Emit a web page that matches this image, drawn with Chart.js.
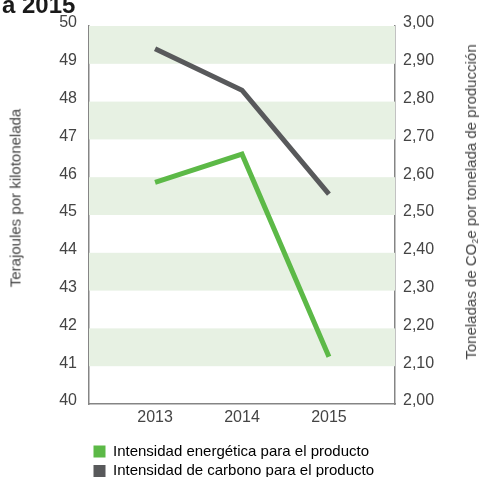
<!DOCTYPE html>
<html>
<head>
<meta charset="utf-8">
<script src="https://cdn.jsdelivr.net/npm/chart.js@4.4.1/dist/chart.umd.min.js"></script>
<style>
  html, body { margin: 0; padding: 0; background: #fff; }
  #wrap { position: relative; width: 482px; height: 477px; overflow: hidden; font-family: "Liberation Sans", Arial, sans-serif; }
  #wrap canvas { position: absolute; left: 0; top: 0; }
  .head { position: absolute; left: 2px; top: -7px; font-size: 24px; line-height: 24px; font-weight: bold; color: #1a1a1a; }
  .ytitle { position: absolute; white-space: nowrap; font-size: 15px; color: #444; transform: translate(-50%, -50%) rotate(-90deg); }
  .ytitle sub { font-size: 9px; vertical-align: -2px; }
</style>
</head>
<body>
<div id="wrap">
  <canvas id="c" width="482" height="477"></canvas>
  <div class="head">a 2015</div>
  <div class="ytitle" style="left:15px; top:198px">Terajoules por kilotonelada</div>
  <div class="ytitle" style="left:471px; top:202px">Toneladas de CO<sub>2</sub>e por tonelada de producción</div>
</div>
<script>
// Data
const years     = [2013, 2014, 2015];
const energia   = [45.86, 46.61, 41.25];   // left axis, TJ / kt
const carbono   = [2.94, 2.83, 2.555];     // right axis, t CO2e / t
const seriesNames = ['Intensidad energética para el producto', 'Intensidad de carbono para el producto'];
const leftTicks  = [40, 50, 1];            // min, max, step
const rightTicks = [2, 3, 0.1];

const GREEN = '#5cb947';
const GREY  = '#58595b';
const TXT   = '#444';
const AXIS  = '#858585';

// light green bands on every other unit of the left axis
const bandsPlugin = {
  id: 'bands',
  beforeDatasetsDraw(chart) {
    const { ctx, chartArea: a, scales: { y } } = chart;
    ctx.save();
    ctx.fillStyle = '#e7f1e3';
    y.ticks.forEach(t => {
      if (t.value % 2 === 1 && t.value < y.max) {
        const top = y.getPixelForValue(t.value + 1);
        const bot = y.getPixelForValue(t.value);
        ctx.fillRect(a.left, top, a.right - a.left, bot - top);
      }
    });
    ctx.restore();
  }
};

const tickFont = { family: '"Liberation Sans", Arial, sans-serif', size: 16 };

new Chart(document.getElementById('c'), {
  type: 'line',
  data: {
    datasets: [
      { label: seriesNames[0], data: years.map((x, i) => ({ x, y: energia[i] })), yAxisID: 'y',
        borderColor: GREEN, backgroundColor: GREEN, borderWidth: 5, pointRadius: 0, tension: 0 },
      { label: seriesNames[1], data: years.map((x, i) => ({ x, y: carbono[i] })), yAxisID: 'y2',
        borderColor: GREY, backgroundColor: GREY, borderWidth: 5, pointRadius: 0, tension: 0 },
    ],
  },
  options: {
    responsive: false,
    animation: false,
    layout: { padding: { top: 26, left: 0, right: 0, bottom: -11.5 } },
    plugins: {
      tooltip: { enabled: false },
      legend: {
        position: 'bottom',
        align: 'start',
        fullSize: false,
        labels: {
          color: TXT, font: { family: tickFont.family, size: 15, lineHeight: 1 },
          boxWidth: 12, boxHeight: 12, padding: 4.5, useBorderRadius: false,
          generateLabels: chart => chart.data.datasets.map((d, i) => ({
            text: d.label, fillStyle: d.borderColor, strokeStyle: d.borderColor, lineWidth: 0, datasetIndex: i,
          })),
        },
      },
    },
    scales: {
      x: {
        type: 'linear',
        min: 2012.24, max: 2015.76,
        afterBuildTicks: s => { s.ticks = years.map(v => ({ value: v })); },
        afterFit: s => { s.height = 35.5; },
        ticks: { color: TXT, font: tickFont, padding: 4, callback: v => String(v) },
        grid: { display: false, drawTicks: false },
        border: { display: true, color: AXIS, width: 1.5 },
      },
      y: {
        position: 'left',
        min: leftTicks[0], max: leftTicks[1],
        afterFit: s => { s.width = 89; },
        ticks: { stepSize: leftTicks[2], color: TXT, font: tickFont, padding: 12, labelOffset: -3 },
        grid: { display: false, drawTicks: false },
        border: { display: true, color: AXIS, width: 1.5 },
      },
      y2: {
        position: 'right',
        min: rightTicks[0], max: rightTicks[1],
        afterFit: s => { s.width = 87; },
        ticks: { stepSize: rightTicks[2], color: TXT, font: tickFont, padding: 8, labelOffset: -3,
                 callback: v => v.toFixed(2).replace('.', ',') },
        grid: { display: false, drawTicks: false },
        border: { display: true, color: AXIS, width: 1.5 },
      },
    },
  },
  plugins: [bandsPlugin],
});
</script>
</body>
</html>
